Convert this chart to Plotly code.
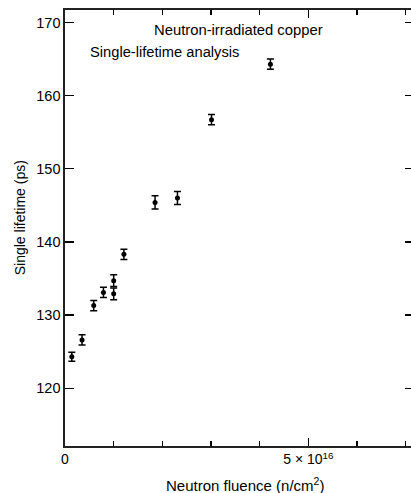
import plotly.graph_objects as go

# Data (fluence in n/cm^2, lifetime in ps)
fluence = [0.14e16, 0.35e16, 0.59e16, 0.79e16, 1.00e16, 1.00e16, 1.21e16,
           1.85e16, 2.31e16, 3.01e16, 4.22e16]
lifetime = [124.3, 126.6, 131.3, 133.1, 134.7, 132.9, 138.3,
            145.4, 146.0, 156.7, 164.3]
err = [0.6, 0.7, 0.7, 0.7, 0.8, 0.8, 0.7, 0.9, 0.9, 0.7, 0.7]

x_tickvals = [0, 5e16]
x_ticktext = ["0", "5 × 10<sup>16</sup>"]
y_tickvals = [120, 130, 140, 150, 160, 170]

FONT = "Liberation Sans, Arial, Helvetica, sans-serif"

W, H = 416, 493          # slightly wider than window so the right frame line is clipped
L, R, T, B = 65, 0, 10, 47
pw, ph = W - L - R, H - T - B

fig = go.Figure()
fig.add_trace(go.Scatter(
    x=fluence, y=lifetime, mode="markers",
    marker=dict(color="black", size=5, symbol="circle"),
    error_y=dict(type="data", array=err, visible=True, color="black",
                 thickness=1.5, width=3.5),
    showlegend=False, hoverinfo="skip",
))

fig.update_layout(
    width=W, height=H,
    margin=dict(l=L, r=R, t=T, b=B),
    paper_bgcolor="white", plot_bgcolor="white",
    font=dict(family=FONT, color="black", size=14),
    xaxis=dict(
        range=[0, 7.17e16], tickvals=x_tickvals, ticktext=x_ticktext,
        ticks="inside", ticklen=8, tickwidth=1.3, tickcolor="black",
        minor=dict(dtick=1e16, tick0=0, ticks="inside", ticklen=5,
                   tickwidth=1.3, tickcolor="black", showgrid=False),
        showline=True, linecolor="#222", linewidth=1.6, mirror="ticks",
        showgrid=False, zeroline=False, tickfont=dict(size=14),
    ),
    yaxis=dict(
        range=[112.1, 171.7], tickvals=y_tickvals,
        ticks="inside", ticklen=9, tickwidth=1.3, tickcolor="black",
        showline=True, linecolor="#222", linewidth=1.6, mirror="ticks",
        showgrid=False, zeroline=False, tickfont=dict(size=14.5),
    ),
)

texts = [("Neutron-irradiated copper", 152, 30, "left", 14.8, 0),
         ("Single-lifetime analysis", 88, 52, "left", 14.7, 0),
         ("Neutron fluence (n/cm<sup>2</sup>)", 246, 484, "center", 15, 0),
         ("Single lifetime (ps)", 20, 218, "center", 14, -90)]
ann = []
for t, px, py, anc, fs, ang in texts:
    ann.append(dict(
        text=t, xref="paper", yref="paper",
        x=(px - L) / pw, y=(H - B - py) / ph,
        xanchor=anc, yanchor="middle", showarrow=False,
        textangle=ang, font=dict(size=fs, family=FONT, color="black"),
    ))
fig.update_layout(annotations=ann)

fig.write_html(
    "out.html",
    config={"displayModeBar": False, "staticPlot": True},
    post_script="document.body.style.margin='0';document.body.style.overflow='hidden';",
)
